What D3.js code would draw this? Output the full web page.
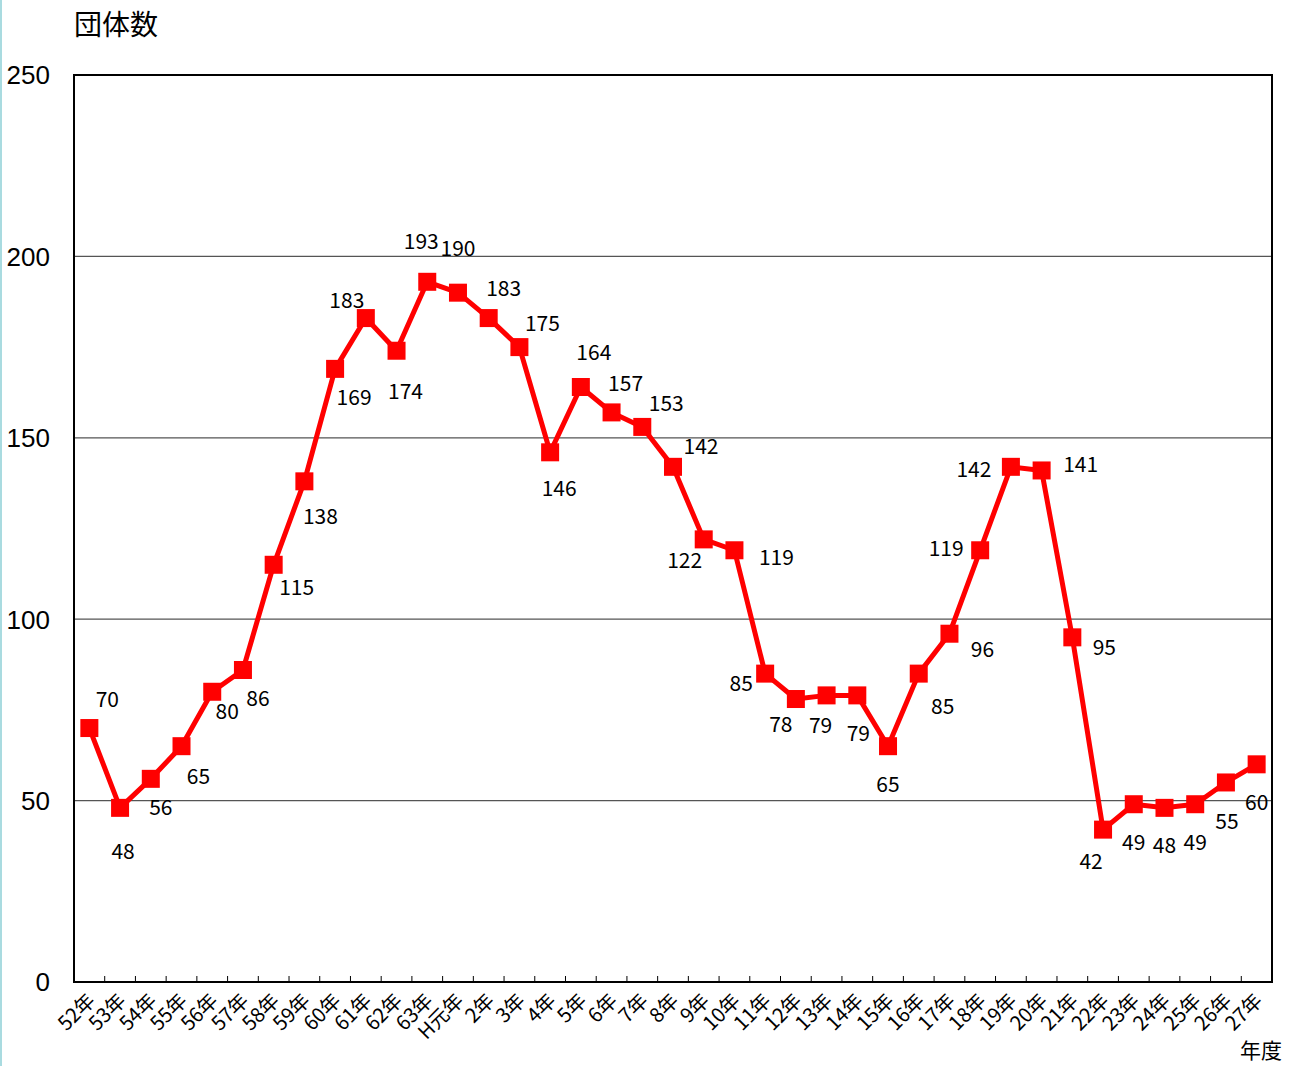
<!DOCTYPE html>
<html>
<head>
<meta charset="utf-8">
<script src="https://cdn.jsdelivr.net/npm/d3@7"></script>
<style>
  body { margin: 0; background: #fff; }
  svg { display: block; font-family: "Noto Sans CJK JP", "Noto Sans", sans-serif; }
</style>
</head>
<body>
<svg id="chart"></svg>
<script>
// fiscal years (Showa 52 .. Heisei 27)
const years = ['52年','53年','54年','55年','56年','57年','58年','59年','60年','61年','62年','63年','H元年',
  '2年','3年','4年','5年','6年','7年','8年','9年','10年','11年','12年','13年','14年','15年','16年',
  '17年','18年','19年','20年','21年','22年','23年','24年','25年','26年','27年'];
const counts = [70, 48, 56, 65, 80, 86, 115, 138, 169, 183, 174, 193, 190,
  183, 175, 146, 164, 157, 153, 142, 122, 119, 85, 78, 79, 79, 65, 85,
  96, 119, 142, 141, 95, 42, 49, 48, 49, 55, 60];
const yTicks = [0, 50, 100, 150, 200, 250];

// where each value label sits relative to its point
const labelOffsets = [[18,-28],[3,44],[10,29],[17,30],[15,20],[15,29],[23,23],[16,35],[19,29],[-19,-17],
  [9,41],[-6,-40],[0,-44],[15,-29],[23,-23],[9,36],[13,-34],[14,-29],[24,-23],[28,-20],
  [-19,21],[42,7],[-24,10],[-15,26],[-6,30],[1,38],[0,38],[24,33],[33,16],[-34,-2],
  [-37,3],[39,-6],[32,10],[-12,32],[0,38],[0,38],[0,38],[1,39],[0,38]];

const W = 1290, H = 1066;
const margin = { top: 75, right: 18, bottom: 84, left: 74 };
const width = W - margin.left - margin.right;
const height = H - margin.top - margin.bottom;

const svg = d3.select('#chart').attr('width', W).attr('height', H);

// thin blue edge on the left side of the page
svg.append('rect').attr('x', 0).attr('y', 0).attr('width', 2).attr('height', H).attr('fill', '#a9dbe0');

const x = d3.scaleBand().domain(years).range([0, width]);
const y = d3.scaleLinear().domain([0, 250]).range([height, 0]);

const main = svg.append('g').attr('transform', `translate(${margin.left},${margin.top})`);

// gridlines
main.append('g').selectAll('line')
  .data(yTicks.filter(t => t > 0 && t < 250))
  .enter().append('line')
  .attr('x1', 0).attr('x2', width)
  .attr('y1', d => y(d)).attr('y2', d => y(d))
  .attr('stroke', '#555').attr('stroke-width', 1.3);

// frame
main.append('rect')
  .attr('width', width).attr('height', height)
  .attr('fill', 'none').attr('stroke', '#000').attr('stroke-width', 2);

// x tick marks at band edges, pointing into the plot
main.append('g').selectAll('line')
  .data(years.slice(1))
  .enter().append('line')
  .attr('x1', d => x(d)).attr('x2', d => x(d))
  .attr('y1', height).attr('y2', height - 6)
  .attr('stroke', '#000').attr('stroke-width', 1);

// y labels
svg.append('g').selectAll('text')
  .data(yTicks)
  .enter().append('text')
  .attr('x', 50)
  .attr('y', d => margin.top + y(d))
  .attr('dy', '0.36em')
  .attr('text-anchor', 'end')
  .attr('font-family', '"Liberation Sans", Arial, sans-serif')
  .attr('font-size', 26)
  .attr('fill', '#000')
  .text(d => d);

// x labels, rotated
main.append('g').selectAll('text')
  .data(years)
  .enter().append('text')
  .attr('text-anchor', 'end')
  .attr('font-size', 20)
  .attr('fill', '#000')
  .attr('transform', d => `translate(${x(d) + x.bandwidth() / 2 + 7},${height + 20}) rotate(-45)`)
  .text(d => d);

// series line
const line = d3.line()
  .x((d, i) => x(years[i]) + x.bandwidth() / 2)
  .y(d => y(d));

main.append('path')
  .datum(counts)
  .attr('d', line)
  .attr('fill', 'none')
  .attr('stroke', '#ff0000')
  .attr('stroke-width', 5)
  .attr('stroke-linejoin', 'round');

const sz = 18;
main.append('g').selectAll('rect')
  .data(counts)
  .enter().append('rect')
  .attr('x', (d, i) => x(years[i]) + x.bandwidth() / 2 - sz / 2)
  .attr('y', d => y(d) - sz / 2)
  .attr('width', sz).attr('height', sz)
  .attr('fill', '#ff0000');

// value labels
main.append('g').selectAll('text')
  .data(counts)
  .enter().append('text')
  .attr('x', (d, i) => x(years[i]) + x.bandwidth() / 2 + labelOffsets[i][0])
  .attr('y', (d, i) => y(d) + labelOffsets[i][1])
  .attr('dy', '0.35em')
  .attr('text-anchor', 'middle')
  .attr('font-size', 21)
  .attr('fill', '#000')
  .text(d => d);

// titles
svg.append('text')
  .attr('x', 74).attr('y', 35)
  .attr('font-size', 28)
  .text('団体数');

svg.append('text')
  .attr('x', 1282).attr('y', 1058)
  .attr('text-anchor', 'end')
  .attr('font-size', 21)
  .text('年度');
</script>
</body>
</html>
